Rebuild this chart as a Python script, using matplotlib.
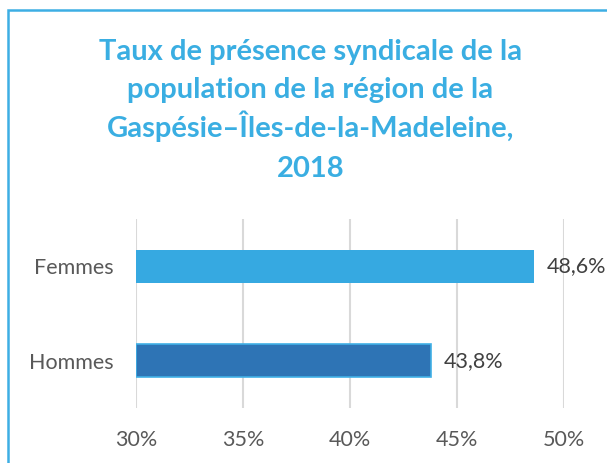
import matplotlib.pyplot as plt
from matplotlib.patches import Rectangle

categories = ['Hommes', 'Femmes']
values = [43.8, 48.6]
value_labels = ['43,8%', '48,6%']
ticks = [30, 35, 40, 45, 50]
tick_labels = ['30%', '35%', '40%', '45%', '50%']
title_lines = ["Taux de présence syndicale de la",
               "population de la région de la",
               "Gaspésie–Îles-de-la-Madeleine,",
               "2018"]

plt.rcParams['font.family'] = ['Lato', 'DejaVu Sans']

fig = plt.figure(figsize=(6.07, 4.63), dpi=100)
ax = fig.add_axes([0.224, 0.119, 0.705, 0.408])

# light blue frame around the chart (right and bottom fall off the canvas)
fig.patches.append(Rectangle((8 / 607, -0.1), 1.2, 1.0 - 10 / 463 + 0.1,
                             transform=fig.transFigure, fill=False,
                             edgecolor='#3daee4', linewidth=1.8))

ax.barh([0], [values[0] - 30], left=30, height=0.35, color='#2e74b5',
        edgecolor='#41b0e6', linewidth=1.2)
ax.barh([1], [values[1] - 30], left=30, height=0.35, color='#36a9e1')

for i, (v, lab) in enumerate(zip(values, value_labels)):
    ax.text(v + 0.6, i, lab, va='center', ha='left', fontsize=15.5, color='#404040')

ax.set_xlim(30, 50)
ax.set_ylim(-0.5, 1.5)
ax.set_xticks(ticks)
ax.set_xticklabels(tick_labels)
ax.set_yticks([0, 1])
ax.set_yticklabels(categories)
ax.tick_params(axis='both', length=0, labelsize=15.5, labelcolor='#595959')
ax.tick_params(axis='x', pad=16)
ax.tick_params(axis='y', pad=16)
ax.grid(axis='x', color='#d9d9d9', linewidth=1.5)
ax.set_axisbelow(True)
for s in ax.spines.values():
    s.set_visible(False)

baselines = [60, 98, 137, 177]
for line, yb in zip(title_lines, baselines):
    fig.text(0.5115, 1 - yb / 463, line, ha='center', va='baseline', fontsize=21,
             fontweight='bold', color='#3aaee2')

fig.savefig('out.png', dpi=100)
